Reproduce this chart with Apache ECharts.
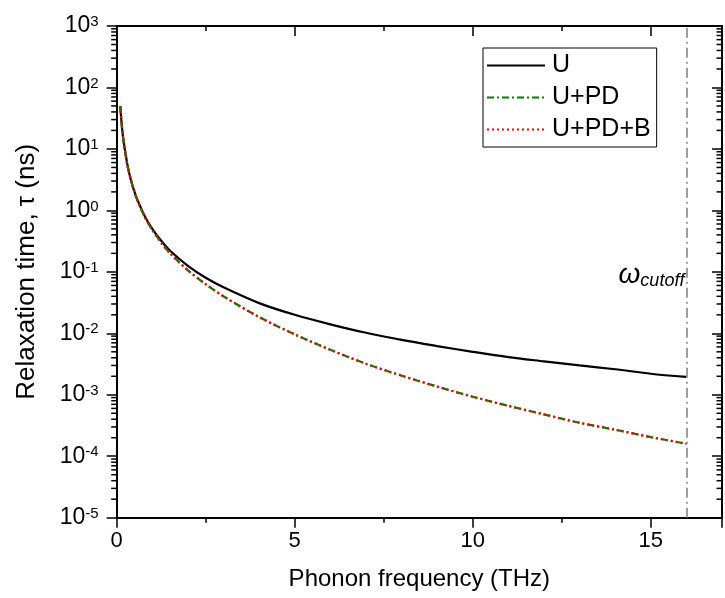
<!DOCTYPE html>
<html>
<head>
<meta charset="utf-8">
<script src="https://cdn.jsdelivr.net/npm/echarts@6/dist/echarts.min.js"></script>
<style>
html,body{margin:0;padding:0;background:#fff;}
#chart{width:725px;height:598px;}
</style>
</head>
<body>
<div id="chart"></div>
<script>
// Phonon frequency (THz)
const freq = [0.1, 0.15, 0.2, 0.3, 0.4, 0.5, 0.6, 0.8, 1, 1.25, 1.5, 2, 2.5, 3, 4, 5, 6, 7, 8, 9, 10, 11, 12, 13, 14, 15, 16];
// Relaxation time (ns)
const tauU = [50, 22, 12.5, 5.6, 3.1, 2.0, 1.4, 0.78, 0.5, 0.32, 0.22, 0.125, 0.08, 0.056, 0.031, 0.02, 0.014, 0.0102, 0.0078, 0.0062, 0.005, 0.0041, 0.0035, 0.003, 0.0026, 0.0022, 0.00195];
const tauUPD = [50, 22, 12.5, 5.5, 3.1, 1.98, 1.37, 0.76, 0.48, 0.3, 0.2, 0.106, 0.063, 0.04, 0.0184, 0.0096, 0.0054, 0.0032, 0.00205, 0.00136, 0.00093, 0.00066, 0.00048, 0.00035, 0.00027, 0.000205, 0.00016];
const tauUPDB = [49.5, 21.9, 12.4, 5.5, 3.1, 1.97, 1.37, 0.76, 0.48, 0.3, 0.2, 0.106, 0.063, 0.04, 0.0184, 0.0096, 0.0054, 0.0032, 0.00205, 0.00136, 0.00093, 0.00066, 0.00048, 0.00035, 0.00027, 0.000205, 0.00016];
const seriesNames = ['U', 'U+PD', 'U+PD+B'];
const xTicks = [0, 5, 10, 15];
const cutoff = 16;
const cutoffLabelY = 0.1;
const xMin = 0, xMax = 17;
const yExpMin = -5, yExpMax = 3;

const FONT = 'Liberation Sans, Arial, sans-serif';
const chart = echarts.init(document.getElementById('chart'), null, {renderer: 'canvas'});

const pairs = arr => freq.map((f, i) => [f, arr[i]]);

// minor tick values for log axis (2..9 x 10^n)
const minorVals = [];
for (let e = yExpMin; e < yExpMax; e++) {
  for (let k = 2; k <= 9; k++) minorVals.push(k * Math.pow(10, e));
}

const axisLineStyle = {color: '#000', width: 2};

const option = {
  animation: false,
  backgroundColor: '#fff',
  grid: {left: 116.7, top: 26, width: 610.6, height: 491.7, containLabel: false},
  legend: {
    orient: 'vertical',
    left: 483, top: 48,
    data: seriesNames,
    itemWidth: 58, itemHeight: 14, itemGap: 5,
    padding: [4, 6, 4, 3],
    borderColor: '#000', borderWidth: 1,
    itemStyle: {opacity: 0, borderWidth: 0},
    textStyle: {fontFamily: FONT, fontSize: 25, color: '#000', lineHeight: 27, padding: [0, 0, 0, 2]}
  },
  xAxis: [{
    type: 'value', min: xMin, max: xMax, interval: 5,
    position: 'bottom',
    name: 'Phonon frequency (THz)', nameLocation: 'middle', nameGap: 50,
    nameTextStyle: {fontFamily: FONT, fontSize: 24, color: '#000'},
    axisLine: {show: true, onZero: false, lineStyle: axisLineStyle},
    axisTick: {show: true, inside: false, length: 10, lineStyle: {color: '#000', width: 1.5}},
    minorTick: {show: true, splitNumber: 2, length: 5, lineStyle: {color: '#000', width: 1.5}},
    axisLabel: {fontFamily: FONT, fontSize: 22, color: '#000', margin: 12,
      formatter: v => xTicks.indexOf(v) >= 0 ? String(v) : ''},
    splitLine: {show: false}
  }, {
    type: 'value', min: xMin, max: xMax, interval: 5,
    position: 'top',
    axisLine: {show: true, onZero: false, lineStyle: axisLineStyle},
    axisTick: {show: true, inside: true, length: 10, lineStyle: {color: '#000', width: 1.5}},
    minorTick: {show: true, splitNumber: 2, length: 5, lineStyle: {color: '#000', width: 1.5}},
    axisLabel: {show: false},
    splitLine: {show: false}
  }],
  yAxis: [{
    type: 'log', logBase: 10, min: Math.pow(10, yExpMin), max: Math.pow(10, yExpMax),
    splitNumber: 8,
    position: 'left',
    name: 'Relaxation time, τ (ns)', nameLocation: 'middle', nameGap: 77,
    nameTextStyle: {fontFamily: FONT, fontSize: 26, color: '#000'},
    axisLine: {show: true, onZero: false, lineStyle: axisLineStyle},
    axisTick: {show: true, inside: false, length: 10, lineStyle: {color: '#000', width: 1.5}},
    axisLabel: {
      margin: 18, color: '#000',
      formatter: v => '{b|10}{s|' + Math.round(Math.log10(v)) + '}',
      rich: {
        b: {fontFamily: FONT, fontSize: 23, color: '#000', lineHeight: 23},
        s: {fontFamily: FONT, fontSize: 15, color: '#000', verticalAlign: 'top', lineHeight: 15}
      }
    },
    splitLine: {show: false}
  }, {
    type: 'log', logBase: 10, min: Math.pow(10, yExpMin), max: Math.pow(10, yExpMax),
    splitNumber: 8,
    position: 'right',
    axisLine: {show: true, onZero: false, lineStyle: axisLineStyle},
    axisTick: {show: true, inside: true, length: 10, lineStyle: {color: '#000', width: 1.5}},
    axisLabel: {show: false},
    splitLine: {show: false}
  }],
  series: [{
    name: seriesNames[0], type: 'line', data: pairs(tauU),
    smooth: 0.3, symbol: 'none', showSymbol: false,
    lineStyle: {color: '#000', width: 2.2, type: 'solid'},
    itemStyle: {color: '#000'},
    z: 3,
    markLine: {
      silent: true, symbol: 'none',
      label: {show: false},
      lineStyle: {color: '#7f7f7f', width: 1.5, type: [10, 4, 2, 4]},
      data: [{xAxis: cutoff}]
    },
    markPoint: {
      symbol: 'circle', symbolSize: 0,
      label: {
        show: true, position: 'left', distance: 2, offset: [0, 3],
        formatter: '{w|ω}{c|cutoff}',
        rich: {
          w: {fontFamily: FONT, fontSize: 28, fontStyle: 'italic', color: '#000', lineHeight: 30},
          c: {fontFamily: FONT, fontSize: 18, fontStyle: 'italic', color: '#000', verticalAlign: 'bottom', lineHeight: 17}
        }
      },
      data: [{coord: [cutoff, cutoffLabelY]}]
    }
  }, {
    name: seriesNames[1], type: 'line', data: pairs(tauUPD),
    smooth: 0.3, symbol: 'none', showSymbol: false,
    lineStyle: {color: '#008000', width: 2.2, type: [7, 3, 2, 3]},
    itemStyle: {color: '#008000'},
    z: 4
  }, {
    name: seriesNames[2], type: 'line', data: pairs(tauUPDB),
    smooth: 0.3, symbol: 'none', showSymbol: false,
    lineStyle: {color: '#ff0000', width: 2.2, type: [2, 3]},
    itemStyle: {color: '#ff0000'},
    z: 5
  }, {
    type: 'custom', coordinateSystem: 'cartesian2d', clip: false, silent: true,
    data: minorVals.map(v => [xMin, v]),
    renderItem: function (params, api) {
      const v = api.value(1);
      const pL = api.coord([xMin, v]);
      const pR = api.coord([xMax, v]);
      const st = {stroke: '#000', lineWidth: 1.5};
      return {type: 'group', children: [
        {type: 'line', shape: {x1: pL[0] - 5.5, y1: pL[1], x2: pL[0], y2: pL[1]}, style: st},
        {type: 'line', shape: {x1: pR[0] - 5.5, y1: pR[1], x2: pR[0], y2: pR[1]}, style: st}
      ]};
    },
    z: 2
  }]
};
chart.setOption(option);
</script>
</body>
</html>
